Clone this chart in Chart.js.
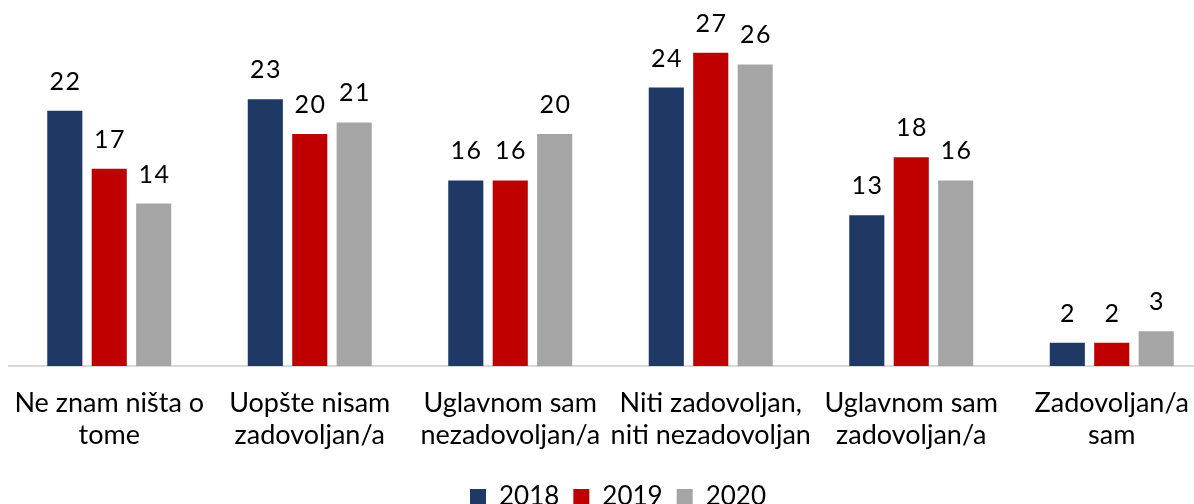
<!DOCTYPE html>
<html>
<head>
<meta charset="utf-8">
<script src="https://cdn.jsdelivr.net/npm/chart.js@4.4.1/dist/chart.umd.min.js"></script>
<style>
  html, body { margin: 0; padding: 0; background: #ffffff; overflow: hidden; }
  #wrap { position: absolute; left: 0; top: 0; width: 1236px; height: 520px; }
</style>
</head>
<body>
<div id="wrap"><canvas id="c"></canvas></div>
<script>
// ---- data ----
const categories = [
  ['Ne znam ništa o', 'tome'],
  ['Uopšte nisam', 'zadovoljan/a'],
  ['Uglavnom sam', 'nezadovoljan/a'],
  ['Niti zadovoljan,', 'niti nezadovoljan'],
  ['Uglavnom sam', 'zadovoljan/a'],
  ['Zadovoljan/a', 'sam']
];
const seriesNames = ['2018', '2019', '2020'];
const values2018 = [22, 23, 16, 24, 13, 2];
const values2019 = [17, 20, 16, 27, 18, 2];
const values2020 = [14, 21, 20, 26, 16, 3];
const seriesColors = ['#203864', '#C00000', '#A5A5A5'];
const yMax = 30;

const valueLabels = {
  id: 'valueLabels',
  afterDatasetsDraw(chart) {
    const ctx = chart.ctx;
    ctx.save();
    ctx.font = '25px Lato';
    try { ctx.letterSpacing = '1.5px'; } catch (e) {}
    ctx.fillStyle = '#000000';
    ctx.textAlign = 'center';
    ctx.textBaseline = 'alphabetic';
    chart.data.datasets.forEach((ds, di) => {
      const meta = chart.getDatasetMeta(di);
      meta.data.forEach((el, i) => {
        ctx.fillText(String(ds.data[i]), el.x + 0.75, el.y - 21);
      });
    });
    ctx.restore();
  }
};

new Chart(document.getElementById('c'), {
  type: 'bar',
  data: {
    labels: categories,
    datasets: [
      { label: seriesNames[0], data: values2018, backgroundColor: seriesColors[0], borderWidth: 0 },
      { label: seriesNames[1], data: values2019, backgroundColor: seriesColors[1], borderWidth: 0 },
      { label: seriesNames[2], data: values2020, backgroundColor: seriesColors[2], borderWidth: 0 }
    ]
  },
  options: {
    responsive: true,
    maintainAspectRatio: false,
    animation: false,
    devicePixelRatio: 1,
    layout: { padding: { top: 18, left: 0, right: 0, bottom: 0 } },
    datasets: { bar: { barPercentage: 0.79, categoryPercentage: 0.665 } },
    plugins: {
      legend: {
        position: 'bottom',
        labels: {
          font: { family: 'Lato', size: 26 },
          color: '#000000',
          boxWidth: 16,
          boxHeight: 16,
          padding: 14
        }
      },
      tooltip: { enabled: false }
    },
    scales: {
      x: {
        grid: { display: false, drawTicks: false },
        border: { display: true, color: '#D9D9D9', width: 2 },
        ticks: {
          font: { family: 'Lato', size: 27, lineHeight: 1.2 },
          color: '#000000',
          padding: 21,
          autoSkip: false,
          maxRotation: 0,
          minRotation: 0
        },
        afterFit(scale) {
          scale.height = 104;
          scale.paddingLeft = 9;
          scale.paddingRight = 24;
        }
      },
      y: {
        display: false,
        min: 0,
        max: yMax
      }
    }
  },
  plugins: [valueLabels]
});
</script>
</body>
</html>
